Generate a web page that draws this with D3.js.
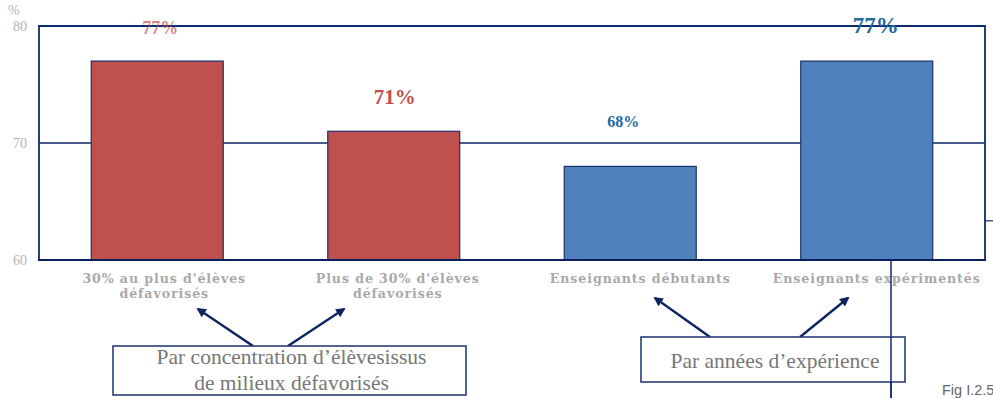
<!DOCTYPE html>
<html>
<head>
<meta charset="utf-8">
<script src="https://cdn.jsdelivr.net/npm/d3@7"></script>
<style>
  html, body { margin: 0; padding: 0; background: #fff; }
  svg { display: block; }
</style>
</head>
<body>
<svg id="chart" width="993" height="398"></svg>
<script>
// Data
const categories = [
  ["30% au plus d'élèves", "défavorisés"],
  ["Plus de 30% d'élèves", "défavorisés"],
  ["Enseignants débutants"],
  ["Enseignants expérimentés"]
];
const values = [77, 71, 68, 77];
const valueLabels = ["77%", "71%", "68%", "77%"];
const groups = ["concentration", "concentration", "experience", "experience"];
const yTicks = [60, 70, 80];
const groupBoxes = [
  ["Par concentration d’élèvesissus", "de milieux défavorisés"],
  ["Par années d’expérience"]
];
const figureNote = "Fig I.2.5";

const svg = d3.select("#chart");
const navy = "#0f2b6e";
const grey = "#a9a9a9";
const fills = { concentration: "#c0504d", experience: "#4f81bd" };
const labelColors = { concentration: "#c0504d", experience: "#1f6aa0" };

const plot = { left: 39, right: 985, top: 26, bottom: 260 };

const x = d3.scaleBand()
  .domain(d3.range(values.length))
  .range([plot.left, plot.right])
  .paddingInner(0.442)
  .paddingOuter(0.221);

const y = d3.scaleLinear().domain([60, 80]).range([plot.bottom, plot.top]);

// gridline at 70
svg.append("g").selectAll("line").data([70]).join("line")
  .attr("x1", plot.left).attr("x2", plot.right)
  .attr("y1", d => y(d)).attr("y2", d => y(d))
  .attr("stroke", "#0c2766").attr("stroke-width", 1.3);

// bars
svg.append("g").selectAll("rect").data(values).join("rect")
  .attr("x", (d, i) => x(i))
  .attr("y", d => y(d))
  .attr("width", x.bandwidth())
  .attr("height", d => y(60) - y(d))
  .attr("fill", (d, i) => fills[groups[i]])
  .attr("stroke", "#1b2f6b").attr("stroke-width", 1.2);

// frame: left, top, right
svg.append("path")
  .attr("d", `M${plot.left},${plot.bottom}V${plot.top}H${plot.right}V${plot.bottom}`)
  .attr("fill", "none").attr("stroke", navy).attr("stroke-width", 1.8);

// small tick beyond the right edge
svg.append("line")
  .attr("x1", plot.right).attr("x2", 993)
  .attr("y1", y(63.35)).attr("y2", y(63.35))
  .attr("stroke", navy).attr("stroke-width", 1.2);

// bottom axis line
svg.append("line")
  .attr("x1", plot.left - 1).attr("x2", plot.right + 1)
  .attr("y1", plot.bottom).attr("y2", plot.bottom)
  .attr("stroke", "#0a1f5c").attr("stroke-width", 2.2);

// y tick labels
const yAxis = d3.axisLeft(y).tickValues(yTicks).tickSize(0).tickPadding(12);
const ya = svg.append("g").attr("transform", `translate(${plot.left},0)`).call(yAxis);
ya.select(".domain").remove();
ya.selectAll("text")
  .attr("fill", "#b3b3b3")
  .attr("font-family", "Liberation Serif, serif")
  .attr("font-size", 14);
svg.append("text").attr("x", 8).attr("y", 15)
  .attr("fill", "#b3b3b3").attr("font-family", "Liberation Serif, serif")
  .attr("font-size", 14).text("%");

// value labels (sizes and positions vary by bar)
const labelStyle = [
  { dx: 3,  dy: -27, size: 18, opacity: 0.7 },
  { dx: 1,  dy: -27, size: 21, opacity: 1 },
  { dx: -7, dy: -39, size: 16, opacity: 1 },
  { dx: 9,  dy: -28, size: 23, opacity: 1 }
];
svg.append("g").selectAll("text").data(values).join("text")
  .attr("x", (d, i) => x(i) + x.bandwidth() / 2 + labelStyle[i].dx)
  .attr("y", (d, i) => y(d) + labelStyle[i].dy)
  .attr("text-anchor", "middle")
  .attr("font-family", "Liberation Serif, serif")
  .attr("font-weight", "bold")
  .attr("font-size", (d, i) => labelStyle[i].size)
  .attr("fill", (d, i) => labelColors[groups[i]])
  .attr("fill-opacity", (d, i) => labelStyle[i].opacity)
  .text((d, i) => valueLabels[i]);

// category labels
const catShift = [7, 4, 10, 10];
const cat = svg.append("g").selectAll("text").data(categories).join("text")
  .attr("x", (d, i) => x(i) + x.bandwidth() / 2 + catShift[i])
  .attr("y", 283)
  .attr("text-anchor", "middle")
  .attr("font-family", "DejaVu Serif, serif")
  .attr("font-weight", "bold")
  .attr("font-size", 12.6)
  .attr("letter-spacing", 0.9)
  .attr("fill", grey);
cat.selectAll("tspan").data(d => d).join("tspan")
  .attr("x", function () { return d3.select(this.parentNode).attr("x"); })
  .attr("dy", (d, j) => j === 0 ? 0 : 15)
  .text(d => d);

// vertical divider
svg.append("line")
  .attr("x1", 891).attr("x2", 891).attr("y1", plot.bottom).attr("y2", 398)
  .attr("stroke", navy).attr("stroke-width", 1.5);

// arrows
const defs = svg.append("defs");
defs.append("marker").attr("id", "head")
  .attr("viewBox", "0 0 10 10").attr("refX", 8).attr("refY", 5)
  .attr("markerWidth", 4).attr("markerHeight", 4).attr("orient", "auto")
  .append("path").attr("d", "M0,0L10,5L0,10Z").attr("fill", "#0f2463");

const arrows = [
  [253, 346, 198, 309],
  [288, 346, 344, 309],
  [710, 337, 655, 298],
  [800, 337, 848, 298]
];
svg.append("g").selectAll("line").data(arrows).join("line")
  .attr("x1", d => d[0]).attr("y1", d => d[1])
  .attr("x2", d => d[2]).attr("y2", d => d[3])
  .attr("stroke", "#0f2463").attr("stroke-width", 2.4)
  .attr("marker-end", "url(#head)");

// group boxes
const boxes = [
  { x: 113, y: 346, w: 353, h: 49, lines: groupBoxes[0], base: [364, 390] },
  { x: 641, y: 337, w: 264, h: 45, lines: groupBoxes[1], base: [368] }
];
const bg = svg.append("g").selectAll("g").data(boxes).join("g");
bg.append("rect")
  .attr("x", d => d.x).attr("y", d => d.y)
  .attr("width", d => d.w).attr("height", d => d.h)
  .attr("fill", "#fff").attr("stroke", "#1b3270").attr("stroke-width", 1.5);
bg.append("text")
  .attr("font-family", "Liberation Serif, serif")
  .attr("font-size", 21.5)
  .attr("fill", "#777")
  .attr("text-anchor", "middle")
  .selectAll("tspan").data(d => d.lines.map((t, j) => ({ t, j, b: d })))
  .join("tspan")
  .attr("x", d => d.b.x + d.b.w / 2 + 2)
  .attr("y", d => d.b.base[d.j])
  .text(d => d.t);

// divider drawn again across the second box
svg.append("line")
  .attr("x1", 891).attr("x2", 891).attr("y1", 337).attr("y2", 398)
  .attr("stroke", navy).attr("stroke-width", 1.5);

// figure note
svg.append("text").attr("x", 942).attr("y", 395)
  .attr("font-family", "Liberation Sans, sans-serif")
  .attr("font-size", 14.5).attr("fill", "#666")
  .text(figureNote);
</script>
</body>
</html>
